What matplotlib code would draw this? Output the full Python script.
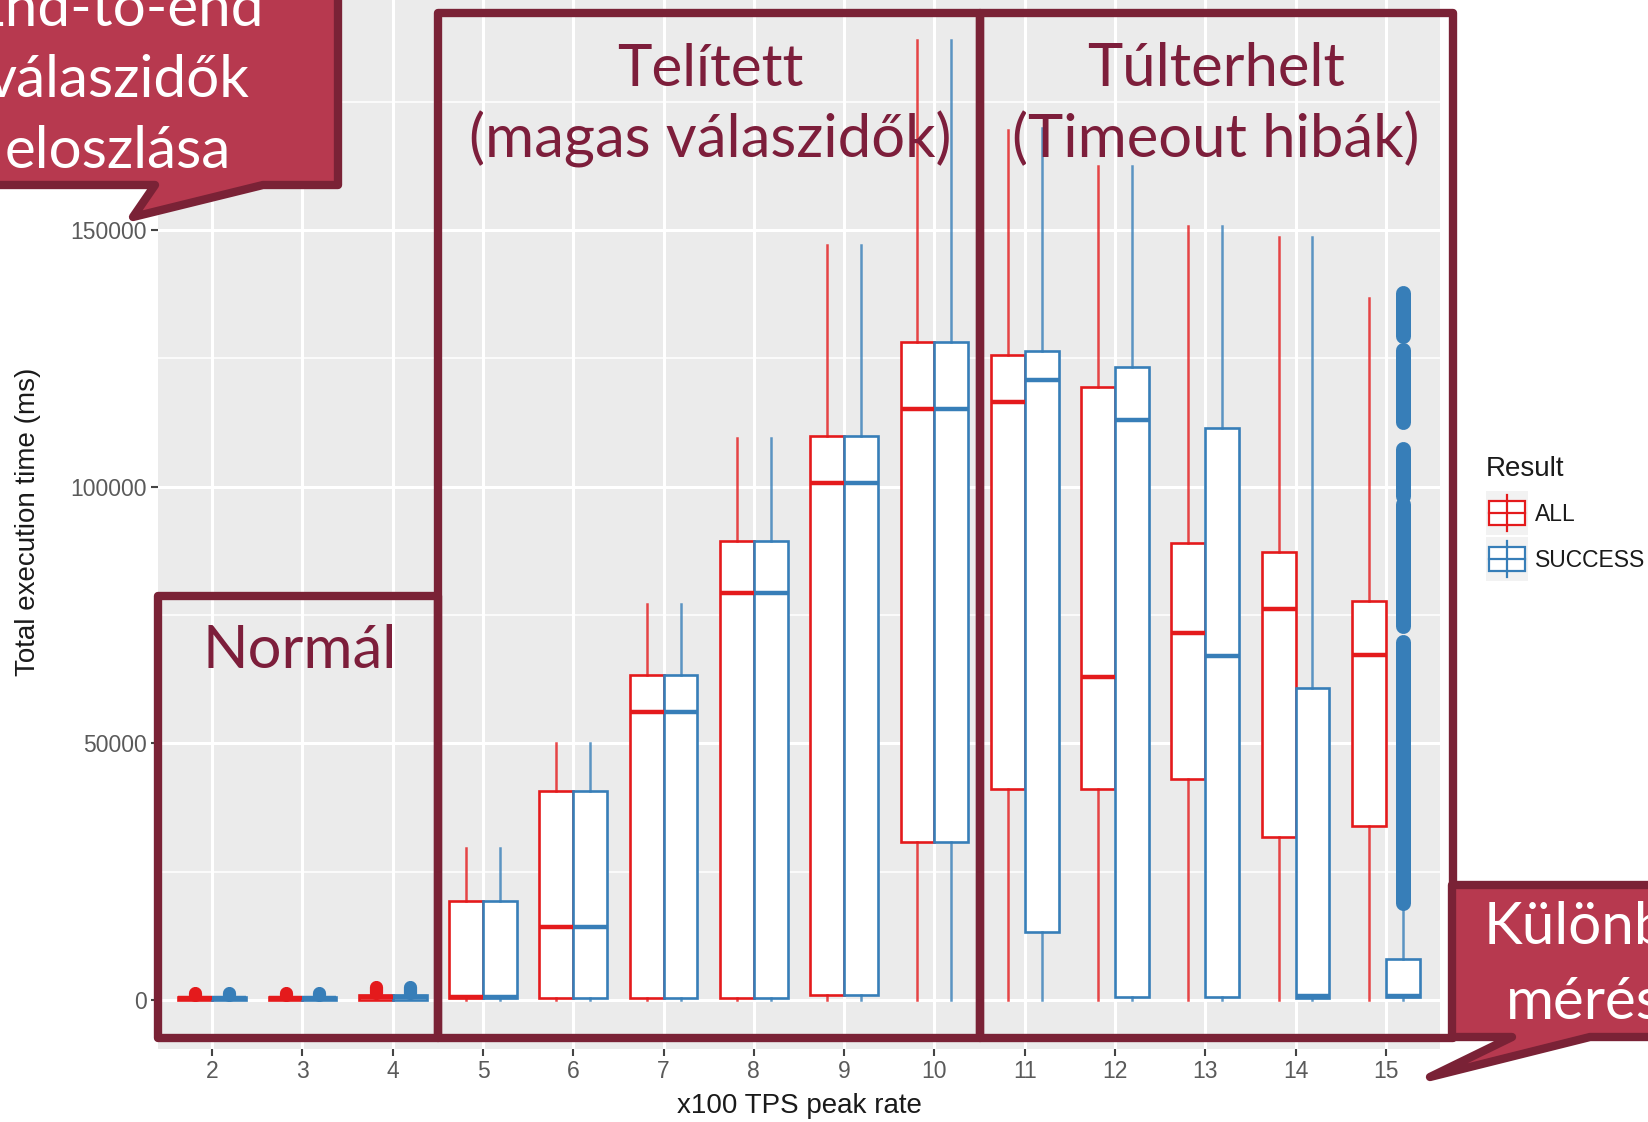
import matplotlib
matplotlib.use('Agg')
from matplotlib import pyplot as plt
from matplotlib.patches import Rectangle, Polygon

W, H = 1648, 1122

# x100 TPS peak rate categories
groups = [2, 3, 4, 5, 6, 7, 8, 9, 10, 11, 12, 13, 14, 15]

# box stats, Result = ALL
all_lo = [0, 0, 0, 0, 0, 0, 0, 0, 0, 0, 0, 0, 0, 0]
all_q1 = [0, 0, 0, 300, 300, 300, 300, 1000, 30800, 41200, 41200, 43000, 31800, 33800]
all_med = [300, 300, 500, 500, 14300, 56100, 79200, 100800, 115100, 116500, 62900, 71400, 76100, 67300]
all_q3 = [600, 600, 1000, 19200, 40800, 63300, 89400, 109800, 128200, 125700, 119400, 89000, 87300, 77800]
all_hi = [800, 800, 1200, 29600, 50100, 77100, 109400, 147100, 187000, 169400, 162400, 150800, 148700, 136700]

# box stats, Result = SUCCESS
suc_lo = [0, 0, 0, 0, 0, 0, 0, 0, 0, 0, 0, 0, 0, 0]
suc_q1 = [0, 0, 0, 300, 300, 300, 300, 1000, 30800, 13300, 600, 600, 400, 500]
suc_med = [300, 300, 500, 500, 14300, 56100, 79200, 100800, 115100, 120800, 113000, 67100, 700, 800]
suc_q3 = [600, 600, 1000, 19200, 40800, 63300, 89400, 109800, 128200, 126500, 123400, 111400, 60800, 8000]
suc_hi = [800, 800, 1200, 29600, 50100, 77100, 109400, 147100, 187000, 169800, 162400, 150800, 148700, 18900]

# outliers (dense runs of points drawn as bands): (group, low, high)
all_outliers = [(2, 900, 1400), (3, 900, 1400), (4, 1400, 2500)]
suc_outliers = [(2, 900, 1400), (3, 900, 1400), (4, 1400, 2500),
                (15, 18900, 69700), (15, 72900, 96600), (15, 98200, 107300),
                (15, 112600, 126600), (15, 129400, 137700)]

RED = '#E41A1C'
BLUE = '#377EB8'
MAROON = '#7A2236'
FILL = '#B7394F'
TXT = '#7D1E3B'
SLIDE_FONT = ['Lato', 'DejaVu Sans']
PLOT_FONT = ['Liberation Sans', 'DejaVu Sans']


def stats(lo, q1, med, q3, hi):
    return [dict(whislo=a, q1=b, med=c, q3=d, whishi=e, fliers=[])
            for a, b, c, d, e in zip(lo, q1, med, q3, hi)]


def draw_boxes(ax, st, offset, color):
    pos = [g + offset for g in groups]
    ax.bxp(st, positions=pos, widths=0.375, patch_artist=True, showcaps=False,
           showfliers=False,
           boxprops=dict(facecolor='white', edgecolor=color, linewidth=1.9),
           whiskerprops=dict(color=color, linewidth=1.8, alpha=0.8),
           medianprops=dict(color=color, linewidth=3.2),
           manage_ticks=False, zorder=3)


def draw_outliers(ax, bands, offset, color, lw):
    for g, lo, hi in bands:
        width = 9.5 if g < 5 else lw
        lc = ax.vlines(g + offset, lo, hi, color=color, linewidth=width, zorder=4)
        lc.set_capstyle('round')


def main():
    plt.rcParams['font.family'] = PLOT_FONT
    fig = plt.figure(figsize=(W / 100, H / 100), dpi=100)

    ax = fig.add_axes([158 / W, 1 - 1049 / H, (1440 - 158) / W, 1049 / H])
    ax.set_facecolor('#EBEBEB')
    for s in ax.spines.values():
        s.set_visible(False)
    ax.set_xlim(1.4, 15.6)
    ax.set_ylim(-9545, 194805)
    ax.set_xticks(groups)
    ax.set_xticklabels([str(g) for g in groups])
    ax.set_yticks([0, 50000, 100000, 150000])
    ax.set_yticklabels(['0', '50000', '100000', '150000'])
    ax.set_yticks([25000, 75000, 125000, 175000], minor=True)
    ax.grid(which='major', color='white', linewidth=2.2)
    ax.grid(which='minor', axis='y', color='white', linewidth=1.1)
    ax.set_axisbelow(True)
    ax.tick_params(which='major', length=5, width=1.5, color='#444444',
                   labelcolor='#5A5A5A', labelsize=16.5, pad=3)
    ax.tick_params(which='minor', length=0)

    draw_boxes(ax, stats(all_lo, all_q1, all_med, all_q3, all_hi), -0.1875, RED)
    draw_boxes(ax, stats(suc_lo, suc_q1, suc_med, suc_q3, suc_hi), 0.1875, BLUE)
    draw_outliers(ax, all_outliers, -0.1875, RED, 10.8)
    draw_outliers(ax, suc_outliers, 0.1875, BLUE, 10.8)

    # overlay in pixel coordinates for labels, legend and slide annotations
    ov = fig.add_axes([0, 0, 1, 1], zorder=10)
    ov.set_xlim(0, W)
    ov.set_ylim(H, 0)
    ov.axis('off')
    ov.patch.set_alpha(0)

    ov.text(28, 522, 'Total execution time (ms)', rotation=90, ha='center',
            va='center', fontsize=20, color='#1A1A1A')
    ov.text(799, 1106, 'x100 TPS peak rate', ha='center', va='center',
            fontsize=20, color='#1A1A1A')

    # legend
    ov.text(1486, 469, 'Result', ha='left', va='center', fontsize=20, color='#1A1A1A')
    for yc, col, lab in [(513, RED, 'ALL'), (559, BLUE, 'SUCCESS')]:
        ov.add_patch(Rectangle((1486, yc - 22), 42, 44, fc='#F2F2F2', ec='none'))
        ov.plot([1507, 1507], [yc - 18, yc + 18], color=col, lw=1.6)
        ov.add_patch(Rectangle((1489, yc - 12), 36, 24, fc='white', ec=col, lw=1.6))
        ov.plot([1489, 1525], [yc, yc], color=col, lw=1.6)
        ov.text(1535, yc + 1, lab, ha='left', va='center', fontsize=16.5, color='#1A1A1A')

    # phase rectangles
    for x0, y0, x1, y1 in [(158, 596, 438, 1038), (438, 13, 980, 1038), (980, 13, 1453, 1038)]:
        ov.add_patch(Rectangle((x0, y0), x1 - x0, y1 - y0, fill=False, ec=MAROON,
                               lw=6, joinstyle='round'))
    ov.text(300, 668, 'Normál', ha='center', va='baseline', fontsize=43,
            color=TXT, family=SLIDE_FONT)
    ov.text(710, 86, 'Telített', ha='center', va='baseline', fontsize=42,
            color=TXT, family=SLIDE_FONT)
    ov.text(710, 157, '(magas válaszidők)', ha='center', va='baseline', fontsize=43,
            color=TXT, family=SLIDE_FONT)
    ov.text(1216, 86, 'Túlterhelt', ha='center', va='baseline', fontsize=43,
            color=TXT, family=SLIDE_FONT)
    ov.text(1216, 157, '(Timeout hibák)', ha='center', va='baseline', fontsize=43,
            color=TXT, family=SLIDE_FONT)

    # callouts
    c1 = [(-30, -30), (338, -30), (338, 185), (263, 185), (133, 217), (155, 185), (-30, 185)]
    ov.add_patch(Polygon(c1, closed=True, fc=FILL, ec=MAROON, lw=6, joinstyle='round'))
    for yb, line in [(26, 'End-to-end'), (97, 'válaszidők'), (168, 'eloszlása')]:
        ov.text(118, yb, line, ha='center', va='baseline', fontsize=42,
                color='white', family=SLIDE_FONT)
    c2 = [(1452, 885), (1680, 885), (1680, 1037), (1590, 1037), (1430, 1077),
          (1512, 1037), (1452, 1037)]
    ov.add_patch(Polygon(c2, closed=True, fc=FILL, ec=MAROON, lw=6, joinstyle='round'))
    ov.text(1484, 944, 'Különböző', ha='left', va='baseline', fontsize=42,
            color='white', family=SLIDE_FONT)
    ov.text(1506, 1019, 'mérések', ha='left', va='baseline', fontsize=42,
            color='white', family=SLIDE_FONT)

    fig.savefig('out.png', dpi=100)


if __name__ in '__main__':
    main()
